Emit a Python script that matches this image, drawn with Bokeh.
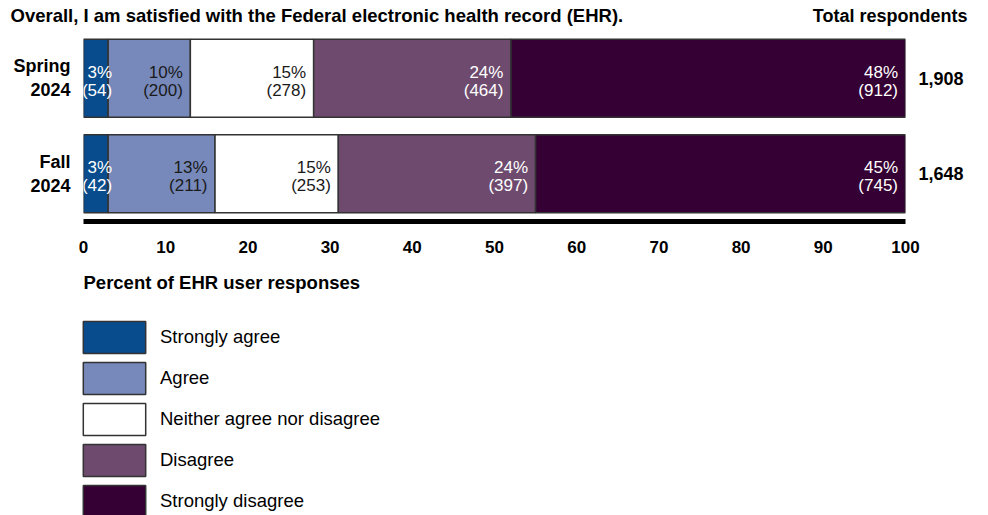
from bokeh.plotting import figure
from bokeh.layouts import column
from bokeh.models import (Range1d, FixedTicker, LinearAxis, Label, Legend, LegendItem,
                          ColumnDataSource)
from bokeh.core.properties import value
from bokeh.embed import file_html
from bokeh.resources import INLINE

# ---------------- data ----------------
categories = ["Spring 2024", "Fall 2024"]
category_labels = ["Spring\n2024", "Fall\n2024"]
responses = ["Strongly agree", "Agree", "Neither agree nor disagree", "Disagree", "Strongly disagree"]
spring_pct = [3, 10, 15, 24, 48]
spring_n = [54, 200, 278, 464, 912]
fall_pct = [3, 13, 15, 24, 45]
fall_n = [42, 211, 253, 397, 745]
totals = ["1,908", "1,648"]
x_ticks = [0, 10, 20, 30, 40, 50, 60, 70, 80, 90, 100]
title_text = "Overall, I am satisfied with the Federal electronic health record (EHR)."
totals_header = "Total respondents"
x_title = "Percent of EHR user responses"

# ---------------- style ----------------
colors = ["#084C8D", "#7789BA", "#FFFFFF", "#6E4B6E", "#350033"]
text_colors = ["#FFFFFF", "#1A1A1A", "#1A1A1A", "#FFFFFF", "#FFFFFF"]
FONT = "Liberation Sans"
W = 988
H0, H1, H2 = 30, 240, 245          # title strip, bars, legend strip
FL, FR = 83, 905
FRAME_H = 191                       # bar frame height (px)

def strip(height):
    f = figure(width=W, height=height, output_backend="svg", toolbar_location=None,
               x_range=Range1d(0, W), y_range=Range1d(height, 0),
               x_axis_location=None, y_axis_location=None,
               min_border_left=0, min_border_right=0, min_border_top=0,
               min_border_bottom=0, background_fill_color="white",
               border_fill_color="white", frame_align=False)
    f.outline_line_color = None
    f.xgrid.visible = False
    f.ygrid.visible = False
    return f

def bold_label(x, y, text, align, size):
    return Label(x=x, y=y, text=text, text_font=FONT, text_font_style="bold",
                 text_font_size=size, text_baseline="middle", text_align=align,
                 text_color="black")

# ---------------- title strip ----------------
p0 = strip(H0)
p0.add_layout(bold_label(10, 15, title_text, "left", "18.5px"))
p0.add_layout(bold_label(967, 15, totals_header, "right", "18px"))

# ---------------- bar chart ----------------
p = figure(width=W, height=H1, output_backend="svg", toolbar_location=None,
           x_range=Range1d(0, 100), y_range=Range1d(0, 2),
           min_border_left=FL, min_border_right=W - FR, min_border_top=0,
           min_border_bottom=H1 - FRAME_H, background_fill_color="white",
           border_fill_color="white")
p.outline_line_color = None
p.xgrid.visible = False
p.ygrid.visible = False

ypos = [len(categories) - 0.5 - i for i in range(len(categories))]
pcts = [spring_pct, fall_pct]
counts = [spring_n, fall_n]
bar_h = 78 / (FRAME_H / 2)

sources = []
for j, resp in enumerate(responses):
    lefts, rights, ys, txt, offs = [], [], [], [], []
    for i in range(len(categories)):
        start = sum(pcts[i][:j])
        end = start + pcts[i][j]
        lefts.append(start)
        rights.append(end)
        ys.append(ypos[i])
        txt.append(f"{pcts[i][j]}%\n({counts[i][j]})")
        offs.append(4 if pcts[i][j] < 5 else -7.5)
    src = ColumnDataSource(dict(left=lefts, right=rights, y=ys, text=txt, xo=offs))
    sources.append(src)
    p.hbar(y="y", left="left", right="right", height=bar_h, source=src,
           fill_color=colors[j], line_color="#333333", line_width=1.5)

for j, src in enumerate(sources):
    p.text(x="right", y="y", text="text", source=src, x_offset="xo", y_offset=3,
           text_align="right", text_baseline="middle", text_color=text_colors[j],
           text_font=value(FONT), text_font_size="17px", text_line_height=0.95)

xa = p.xaxis[0]
xa.ticker = FixedTicker(ticks=x_ticks)
xa.minor_tick_line_color = None
xa.major_tick_in = 0
xa.major_tick_out = 0
xa.axis_line_width = 5
xa.axis_line_color = "black"
xa.major_label_text_font = FONT
xa.major_label_text_font_style = "bold"
xa.major_label_text_font_size = "17px"
xa.major_label_text_color = "black"
xa.major_label_standoff = 19

def style_cat_axis(ax, labels):
    ax.ticker = FixedTicker(ticks=ypos)
    ax.major_label_overrides = {ypos[i]: labels[i] for i in range(len(categories))}
    ax.axis_line_color = None
    ax.major_tick_line_color = None
    ax.major_tick_in = 0
    ax.major_tick_out = 0
    ax.minor_tick_line_color = None
    ax.major_label_standoff = 13
    ax.major_label_text_font = FONT
    ax.major_label_text_font_style = "bold"
    ax.major_label_text_font_size = "18px"
    ax.major_label_text_color = "black"

style_cat_axis(p.yaxis[0], category_labels)
ra = LinearAxis()
p.add_layout(ra, "right")
style_cat_axis(ra, totals)

# ---------------- legend strip ----------------
p2 = strip(H2)
p2.add_layout(bold_label(83, 12, x_title, "left", "18.5px"))

items = []
for j, resp in enumerate(responses):
    # tiny proxy glyph hidden under the white legend swatch
    r = p2.hbar(y=[150], left=[110], right=[111], height=1, fill_color=colors[j],
                line_color="#333333", line_width=1.5)
    items.append(LegendItem(label=resp, renderers=[r]))

legend = Legend(items=items, location=(75, -6), orientation="vertical",
                glyph_width=78, glyph_height=40, spacing=1, label_standoff=7,
                padding=0, margin=0, border_line_color=None,
                background_fill_color="white", background_fill_alpha=1,
                label_text_font=FONT,
                label_text_font_size="18.5px", label_text_color="black",
                label_height=40)
p2.add_layout(legend, "center")

layout = column(p0, p, p2, spacing=0)
open("out.html", "w").write(file_html(layout, INLINE))
